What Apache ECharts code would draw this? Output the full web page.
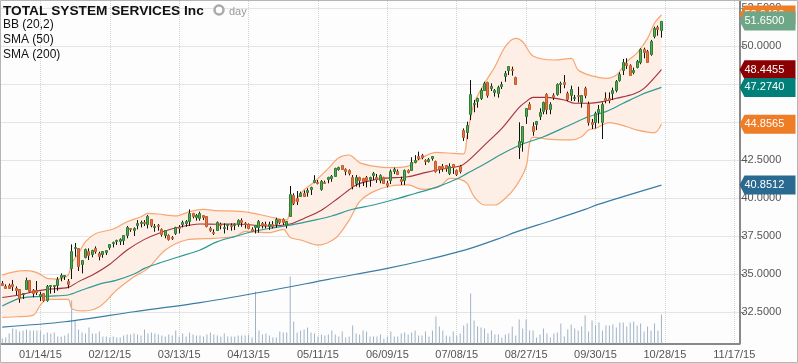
<!DOCTYPE html>
<html>
<head>
<meta charset="utf-8">
<style>
  html, body { margin: 0; padding: 0; background: #fdfdfd; }
  #main { width: 798px; height: 363px; }
</style>
<script src="https://cdn.jsdelivr.net/npm/echarts@6/dist/echarts.min.js"></script>
</head>
<body>
<div id="main"></div>
<script>
// x axis: one slot per trading day, labels every 20 slots
var tickLabels = ['01/14/15','02/12/15','03/13/15','04/13/15','05/11/15','06/09/15','07/08/15','08/27/15','09/30/15','10/28/15','11/17/15'];
var priceTicks = [32.5,35,37.5,40,42.5,45,47.5,50,52.5];

// open, close, low, high
var candles = [
[34.43,34.30,34.21,34.54],[34.23,34.10,34.06,34.32],[34.28,34.10,34.01,34.37],[34.34,34.21,33.88,34.61],[34.10,33.97,33.62,34.19],
[34.01,33.40,33.11,34.01],[33.66,33.73,33.36,33.73],[34.01,34.63,33.95,34.76],[34.61,33.88,33.79,34.61],[33.97,33.77,33.47,34.01],
[33.93,33.84,33.62,34.54],[33.53,33.71,33.22,33.84],[33.73,33.29,33.18,33.73],[33.29,34.21,33.18,34.28],[34.19,34.25,33.71,34.25],
[34.19,34.25,33.75,34.28],[34.28,34.67,33.90,34.80],[34.80,34.93,34.52,35.04],[34.85,34.93,34.61,34.93],[34.56,34.32,34.06,34.67],
[35.42,36.51,34.67,36.95],[36.69,36.78,36.14,37.04],[36.69,35.55,35.20,36.69],[35.64,35.92,35.04,35.92],[36.10,36.67,36.03,36.67],
[36.51,36.25,35.92,36.69],[36.29,36.60,36.10,36.60],[36.69,36.54,36.34,36.82],[36.38,36.18,35.90,36.47],[36.29,36.51,36.07,36.51],
[36.47,36.56,36.25,36.56],[36.78,36.95,36.60,36.95],[37.02,37.13,36.75,37.13],[37.17,37.22,36.91,37.26],[37.17,37.30,36.91,37.35],
[37.24,37.54,36.91,37.54],[37.57,38.11,37.35,38.16],[38.00,37.94,37.78,38.00],[37.89,38.00,37.50,38.07],[38.20,38.38,37.94,38.55],
[38.33,38.44,38.07,38.51],[38.44,38.38,38.16,38.55],[38.29,38.81,38.00,38.88],[38.62,38.22,38.07,38.62],[38.11,38.16,37.78,38.29],
[38.25,38.16,37.85,38.29],[37.94,37.61,37.46,38.00],[37.57,37.89,37.35,37.89],[37.54,37.33,37.20,37.61],[37.46,37.35,37.24,37.50],
[37.72,38.07,37.57,38.11],[38.11,38.00,37.67,38.22],[38.29,38.44,38.07,38.51],[38.38,38.51,38.11,38.55],[38.51,39.03,38.16,39.25],
[39.03,38.81,38.66,39.03],[38.73,38.90,38.51,38.95],[38.66,39.03,38.51,39.10],[38.88,38.77,38.55,38.88],[38.81,38.16,38.07,38.81],
[38.00,37.89,37.78,38.11],[37.78,37.72,37.57,37.94],[37.89,38.42,37.89,38.46],[38.29,38.22,37.94,38.38],[38.02,38.11,37.67,38.33],
[38.20,38.29,37.89,38.29],[38.22,38.16,37.85,38.33],[38.20,38.29,37.89,38.33],[38.29,38.55,38.11,38.60],[38.55,38.44,38.11,38.66],
[38.38,38.29,38.00,38.42],[38.29,38.02,37.94,38.33],[37.98,37.85,37.76,38.07],[38.11,38.22,37.67,38.22],[38.07,38.51,37.72,38.55],
[38.33,38.20,38.00,38.42],[38.29,38.22,38.00,38.44],[38.18,38.31,37.90,38.44],[38.31,38.16,38.00,38.48],[38.27,38.62,38.05,38.70],
[38.62,38.44,38.27,38.62],[38.62,38.44,38.22,38.66],[38.22,38.48,38.00,38.48],[38.82,40.26,38.77,40.79],[40.20,39.65,39.54,40.31],
[39.98,39.82,39.54,40.46],[40.13,40.35,40.09,40.42],[40.30,40.15,40.09,40.50],[40.42,40.53,40.09,40.64],[40.57,40.70,40.20,40.75],
[41.08,41.18,40.97,41.50],[41.08,40.97,40.90,41.18],[40.57,41.12,40.48,41.18],[41.07,41.00,40.97,41.14],[41.27,41.36,40.97,41.40],
[41.34,41.45,41.07,41.51],[41.45,41.95,41.40,41.99],[41.90,42.02,41.80,42.06],[42.15,41.93,41.84,42.15],[41.90,41.80,41.50,41.95],
[41.84,41.62,41.49,41.88],[41.40,40.79,40.57,41.51],[41.01,41.40,40.75,41.51],[41.36,41.18,40.70,41.40],[41.32,41.14,40.79,41.32],
[41.36,41.18,40.70,41.45],[41.23,41.36,40.75,41.40],[41.49,41.67,41.18,41.71],[41.36,41.23,41.00,41.58],[41.18,41.49,40.97,41.56],
[41.36,41.00,40.97,41.40],[41.00,40.86,40.70,41.14],[41.18,41.75,40.92,41.88],[41.80,41.90,41.58,42.00],[41.75,41.58,41.51,41.88],
[41.25,41.14,40.86,41.40],[41.18,41.84,40.86,41.88],[41.84,41.73,41.62,41.88],[41.84,42.39,41.80,42.68],[42.40,42.50,42.28,42.82],
[42.76,42.63,42.50,43.05],[42.85,42.72,42.55,42.90],[42.50,42.41,42.17,42.55],[42.46,42.59,42.33,42.63],[42.63,42.74,42.46,42.76],
[42.46,41.80,41.67,42.46],[42.10,41.88,41.62,42.10],[42.10,41.97,41.73,42.24],[42.17,41.95,41.73,42.17],[41.62,42.10,41.51,42.28],
[42.22,42.02,41.58,42.24],[41.84,41.58,41.45,41.88],[42.10,41.80,41.62,42.17],[44.47,44.04,43.75,44.58],[44.36,44.80,43.88,45.02],
[45.51,46.82,45.13,47.76],[46.16,46.27,45.64,46.45],[46.38,46.56,45.94,46.60],[46.56,47.11,46.45,47.22],[47.11,47.54,47.08,47.65],
[47.61,46.78,46.60,47.65],[47.26,47.37,47.04,47.54],[47.00,47.11,46.67,47.17],[46.89,47.32,46.60,47.39],[47.37,47.48,47.17,47.65],
[48.05,48.20,47.65,48.36],[48.42,48.66,48.09,48.66],[48.51,48.42,48.05,48.64],[47.98,47.50,47.43,47.98],[43.38,43.75,42.57,44.98],
[43.71,44.74,43.05,44.74],[45.40,45.90,44.87,45.90],[46.21,45.86,45.79,46.30],[44.74,44.43,44.10,44.98],[44.89,45.07,44.47,45.07],
[45.42,45.66,45.13,45.90],[45.75,46.30,45.51,46.34],[46.84,45.86,45.51,46.89],[45.83,46.18,45.51,46.30],[46.78,46.67,46.45,46.89],
[46.84,47.50,46.73,47.54],[47.50,47.59,46.89,47.65],[47.63,47.52,47.22,48.09],[46.91,46.51,46.38,47.00],[46.78,47.17,46.38,47.39],
[46.56,46.65,46.38,46.78],[46.78,46.69,46.29,47.32],[46.29,46.78,45.94,46.78],[47.26,46.78,46.56,47.32],[46.16,45.02,44.76,46.34],
[45.00,44.89,44.54,45.20],[44.98,45.57,44.58,45.68],[45.68,45.86,44.91,46.12],[45.02,46.18,43.88,46.29],[46.56,46.43,46.23,46.95],
[46.56,46.45,46.23,46.95],[46.93,47.11,46.45,47.26],[47.11,47.70,46.95,47.76],[47.76,48.14,47.65,48.27],[48.42,48.97,48.09,49.15],
[48.86,48.75,48.49,49.19],[48.75,48.09,48.03,48.80],[48.27,48.42,48.14,48.58],[48.64,49.01,48.53,49.08],[48.97,49.78,48.80,49.85],
[49.80,49.58,49.19,49.89],[49.67,48.97,48.90,49.74],[49.45,50.33,49.36,50.40],[50.66,51.16,50.50,51.27],[51.27,51.12,50.68,51.34],
[51.05,51.65,50.55,51.65]
];

// volume, millions (estimated, the chart has no scale for it)
var volume = [
0.5,0.6,1.0,1.5,1.4,1.2,1.3,1.4,1.3,1.3,1.3,1.3,0.9,1.1,1.0,1.1,0.7,0.7,0.8,1.0,
4.3,2.3,1.4,1.1,1.0,1.6,1.0,1.0,1.2,0.7,0.7,0.6,0.7,0.6,0.6,0.8,0.9,0.9,1.0,0.9,
0.8,1.4,1.0,1.1,1.0,0.9,0.8,0.7,0.9,0.8,1.3,0.7,1.0,0.7,1.1,0.9,0.8,0.8,0.7,0.9,
1.1,0.9,0.8,0.7,1.0,0.7,0.7,0.7,0.8,0.8,0.8,0.9,0.6,5.2,1.3,0.9,1.0,0.8,0.6,0.6,
1.2,1.1,1.1,6.7,2.2,1.1,1.3,1.4,1.6,1.1,1.0,0.7,0.9,0.8,0.9,1.3,0.9,0.7,1.2,0.6,
0.7,1.8,1.0,0.9,1.3,1.2,0.7,0.7,0.7,0.9,0.5,0.7,1.2,0.7,0.7,1.0,1.1,0.9,1.1,1.3,
0.8,0.8,1.2,0.7,1.3,2.7,1.7,1.3,0.8,0.7,1.2,0.8,1.0,1.8,2.0,5.0,2.3,1.7,1.6,1.5,
1.0,1.3,0.9,0.9,0.6,0.9,1.0,1.7,0.8,2.4,1.5,2.4,1.3,1.3,0.6,0.9,1.5,1.0,0.6,1.0,
1.1,2.0,0.7,1.4,1.9,1.5,1.3,1.7,2.8,1.2,2.3,1.8,2.1,1.3,1.8,1.8,1.9,1.6,2.1,2.1,
1.7,2.1,2.2,1.8,2.0,1.2,1.7,1.3,2.0,1.3,2.9
];

// overlays: [slot, value] read at the turning points of each curve
var bbUpper = [[0,34.93],[3,35.13],[7,35.22],[10,35.09],[13,34.71],[16,34.67],[19,34.93],[20,35.7],[22,36.36],[24,37.13],[27,37.67],[32,37.96],[36,38.44],[40,38.77],[42,38.99],[45,38.95],[50,38.82],[54,39.1],[58,39.25],[62,39.17],[67,39.14],[71,39.06],[77,38.77],[82,38.55],[83,39.32],[85,39.98],[87,40.53],[90,41.07],[94,41.95],[97,42.65],[100,42.83],[101,42.72],[103,42.33],[107,42.1],[112,42.0],[117,42.1],[119,42.39],[125,43.0],[130,42.94],[133,42.9],[134,44.1],[136,46.23],[139,47.54],[142,48.64],[145,49.96],[148,50.5],[150,50.28],[153,49.34],[159,49.08],[164,49.19],[166,48.42],[170,48.03],[174,47.87],[177,48.09],[180,48.97],[183,49.55],[186,50.5],[188,51.5],[190,52.04]];
var bbLower = [[0,32.15],[4,32.19],[9,32.3],[11,32.96],[13,33.33],[19,33.33],[20,32.74],[23,32.57],[28,32.85],[33,33.95],[38,34.82],[42,35.37],[47,36.58],[53,37.24],[61,37.35],[67,37.46],[70,37.8],[77,37.72],[81,37.94],[83,37.41],[86,37.24],[91,36.9],[96,37.35],[100,38.55],[103,39.76],[107,40.42],[112,40.79],[117,40.86],[121,40.57],[126,40.75],[129,41.29],[132,41.23],[134,40.96],[136,40.09],[139,39.54],[142,39.54],[145,39.98],[148,40.75],[151,42.06],[152,43.6],[153,43.99],[158,43.86],[164,43.82],[167,44.03],[169,44.47],[171,44.58],[175,44.96],[180,44.69],[183,44.47],[188,44.3],[190,44.8565]];
var bbMid = [[0,33.46],[5,33.62],[9,33.84],[13,33.99],[19,34.12],[22,34.5],[26,34.93],[31,35.64],[36,36.58],[41,37.28],[45,37.67],[50,38.03],[57,38.29],[62,38.27],[67,38.29],[77,38.16],[83,38.29],[87,38.66],[92,39.2],[97,40.02],[102,40.86],[106,41.14],[110,41.3],[117,41.4],[121,41.62],[126,41.88],[132,42.1],[134,42.39],[139,43.48],[144,44.58],[149,45.96],[151,46.34],[153,46.62],[157,46.62],[162,46.45],[165,46.23],[169,46.23],[173,46.34],[177,46.56],[182,46.84],[185,47.21],[190,48.4455]];
var sma50 = [[0,32.9],[5,33.4],[9,33.51],[14,33.55],[19,33.62],[23,33.95],[28,34.34],[33,34.6],[38,35.0],[41,35.37],[45,35.7],[51,36.14],[57,36.58],[62,37.13],[67,37.46],[72,37.78],[77,38.0],[83,38.22],[90,38.55],[95,38.82],[101,39.26],[107,39.54],[113,39.9],[119,40.3],[125,40.7],[131,41.25],[134,41.62],[139,42.24],[144,42.9],[150,43.55],[156,44.03],[163,44.74],[169,45.35],[174,45.68],[179,46.23],[184,46.78],[190,47.274]];
var sma200 = [[0,31.51],[18,31.86],[38,32.52],[57,33.12],[77,33.9],[94,34.65],[111,35.37],[122,35.92],[134,36.62],[144,37.4],[148,37.76],[158,38.49],[168,39.25],[172,39.6],[190,40.8512]];

// last values shown as tags on the price axis
var tagValues = [52.04, 51.65, 48.4455, 47.274, 44.8565, 40.8512];
var tagColors = ['#ee7d26', '#6fa687', '#8b0000', '#008078', '#ee7d26', '#2a6a90'];

var slots = 213;
var categories = [];
for (var s = 0; s < slots; s++) {
  categories.push((s - 11) % 20 === 0 ? tickLabels[(s - 11) / 20] : '');
}
function isTick(idx) { return (idx - 11) % 20 === 0; }

var myChart = echarts.init(document.getElementById('main'));

function renderBand(params, api) {
  var pts = [];
  bbUpper.forEach(function (p) { pts.push(api.coord(p)); });
  bbLower.slice().reverse().forEach(function (p) { pts.push(api.coord(p)); });
  return { type: 'polygon', shape: { points: pts }, style: { fill: '#fdeee6' } };
}

function renderCandle(params, api) {
  var o = api.value(1), c = api.value(2);
  var up = c > o;
  var xc = Math.floor(api.coord([api.value(0), o])[0]) + 0.5;
  var yTop = Math.round(api.coord([0, Math.max(o, c)])[1]) + 0.5;
  var yBot = Math.round(api.coord([0, Math.min(o, c)])[1]) + 0.5;
  var yHigh = api.coord([0, api.value(4)])[1];
  var yLow = api.coord([0, api.value(3)])[1];
  return {
    type: 'group',
    children: [
      { type: 'line', shape: { x1: xc, y1: yHigh, x2: xc, y2: yLow }, style: { stroke: '#111', lineWidth: 1 } },
      {
        type: 'rect',
        shape: { x: xc - 1, y: yTop, width: 2, height: Math.max(yBot - yTop, 1) },
        style: { fill: up ? '#5aa55a' : '#d9784a', stroke: up ? '#2f7d32' : '#c65a28', lineWidth: 1 }
      }
    ]
  };
}

function renderTag(params, api) {
  var val = api.value(0);
  var x = params.coordSys.x + params.coordSys.width;
  var y = api.coord([0, val])[1];
  return {
    type: 'group',
    children: [
      {
        type: 'polygon',
        shape: { points: [[x, y], [x + 5, y - 9.5], [x + 56, y - 9.5], [x + 56, y + 9.5], [x + 5, y + 9.5]] },
        style: { fill: tagColors[params.dataIndex] }
      },
      {
        type: 'text',
        style: {
          x: x + 5, y: y, text: val.toFixed(4), fill: '#fff',
          font: '11px "Liberation Sans"', verticalAlign: 'middle', align: 'left'
        }
      }
    ]
  };
}

var option = {
  animation: false,
  backgroundColor: '#fdfdfd',
  textStyle: { fontFamily: '"Liberation Sans", Arial, sans-serif' },
  grid: { left: 0.5, top: 1, width: 739, height: 342.5 },
  xAxis: {
    type: 'category',
    data: categories,
    boundaryGap: true,
    axisLine: { lineStyle: { color: '#888', width: 2 } },
    axisTick: { interval: function (i) { return isTick(i); }, alignWithLabel: true, length: 4, lineStyle: { color: '#888' } },
    axisLabel: { interval: function (i) { return isTick(i); }, color: '#555', fontSize: 11, margin: 6 },
    splitLine: {
      show: true,
      alignWithLabel: true,
      interval: function (i) { return isTick(i); },
      lineStyle: { color: '#ccd9cc', type: 'dotted' }
    }
  },
  yAxis: [
    {
      type: 'value',
      position: 'right',
      min: 30.43,
      max: 52.96,
      axisLine: { show: true, lineStyle: { color: '#888', width: 2 } },
      axisTick: { show: true, customValues: priceTicks, length: 5, lineStyle: { color: '#888' } },
      axisLabel: { customValues: priceTicks, color: '#555', fontSize: 11, margin: 2, formatter: function (v) { return v.toFixed(4); } },
      splitLine: { show: true, lineStyle: { color: '#ccc', type: 'dotted' } }
    },
    { type: 'value', min: 0, max: 34.25, show: false, splitLine: { show: false } }
  ],
  series: [
    { type: 'custom', name: 'band', renderItem: renderBand, data: [[0, 40]], z: 1, silent: true },
    { type: 'bar', name: 'volume', yAxisIndex: 1, data: volume, barWidth: 1, itemStyle: { color: '#9fb3c6' }, z: 2 },
    { type: 'line', name: 'BB upper', data: bbUpper, smooth: 0.3, symbol: 'none', lineStyle: { color: '#f7a673', width: 1.2 }, z: 3 },
    { type: 'line', name: 'BB lower', data: bbLower, smooth: 0.3, symbol: 'none', lineStyle: { color: '#f7a673', width: 1.2 }, z: 3 },
    { type: 'line', name: 'BB (20,2)', data: bbMid, smooth: 0.3, symbol: 'none', lineStyle: { color: '#a3323c', width: 1.1 }, z: 3 },
    { type: 'line', name: 'SMA (50)', data: sma50, smooth: 0.3, symbol: 'none', lineStyle: { color: '#2f9a94', width: 1.2 }, z: 3 },
    { type: 'line', name: 'SMA (200)', data: sma200, smooth: 0.3, symbol: 'none', lineStyle: { color: '#3a7ca5', width: 1.2 }, z: 3 },
    {
      type: 'custom',
      name: 'price',
      renderItem: renderCandle,
      encode: { x: 0, y: [1, 2, 3, 4] },
      data: candles.map(function (c, i) { return [i].concat(c); }),
      z: 4
    },
    { type: 'custom', name: 'tags', renderItem: renderTag, encode: { y: 0 }, data: tagValues.map(function (v) { return [v]; }), z: 5, silent: true }
  ],
  graphic: [
    { type: 'rect', shape: { x: 0.5, y: 0.5, width: 797, height: 362 }, style: { fill: 'none', stroke: '#b5b5b5', lineWidth: 1 }, z: 10 },
    { type: 'text', x: 3, y: 4, style: { text: 'TOTAL SYSTEM SERVICES Inc', font: 'bold 13.7px "Liberation Sans"', fill: '#111' }, z: 10 },
    { type: 'circle', shape: { cx: 219, cy: 10, r: 4.5 }, style: { fill: '#fff', stroke: '#aaa', lineWidth: 2.5 }, z: 10 },
    { type: 'text', x: 229, y: 6, style: { text: 'day', font: '11px "Liberation Sans"', fill: '#999' }, z: 10 },
    { type: 'text', x: 3, y: 19, style: { text: 'BB (20,2)', font: '12px "Liberation Sans"', fill: '#111' }, z: 10 },
    { type: 'text', x: 3, y: 34, style: { text: 'SMA (50)', font: '12px "Liberation Sans"', fill: '#111' }, z: 10 },
    { type: 'text', x: 3, y: 49, style: { text: 'SMA (200)', font: '12px "Liberation Sans"', fill: '#111' }, z: 10 }
  ]
};
myChart.setOption(option);
</script>
</body>
</html>
